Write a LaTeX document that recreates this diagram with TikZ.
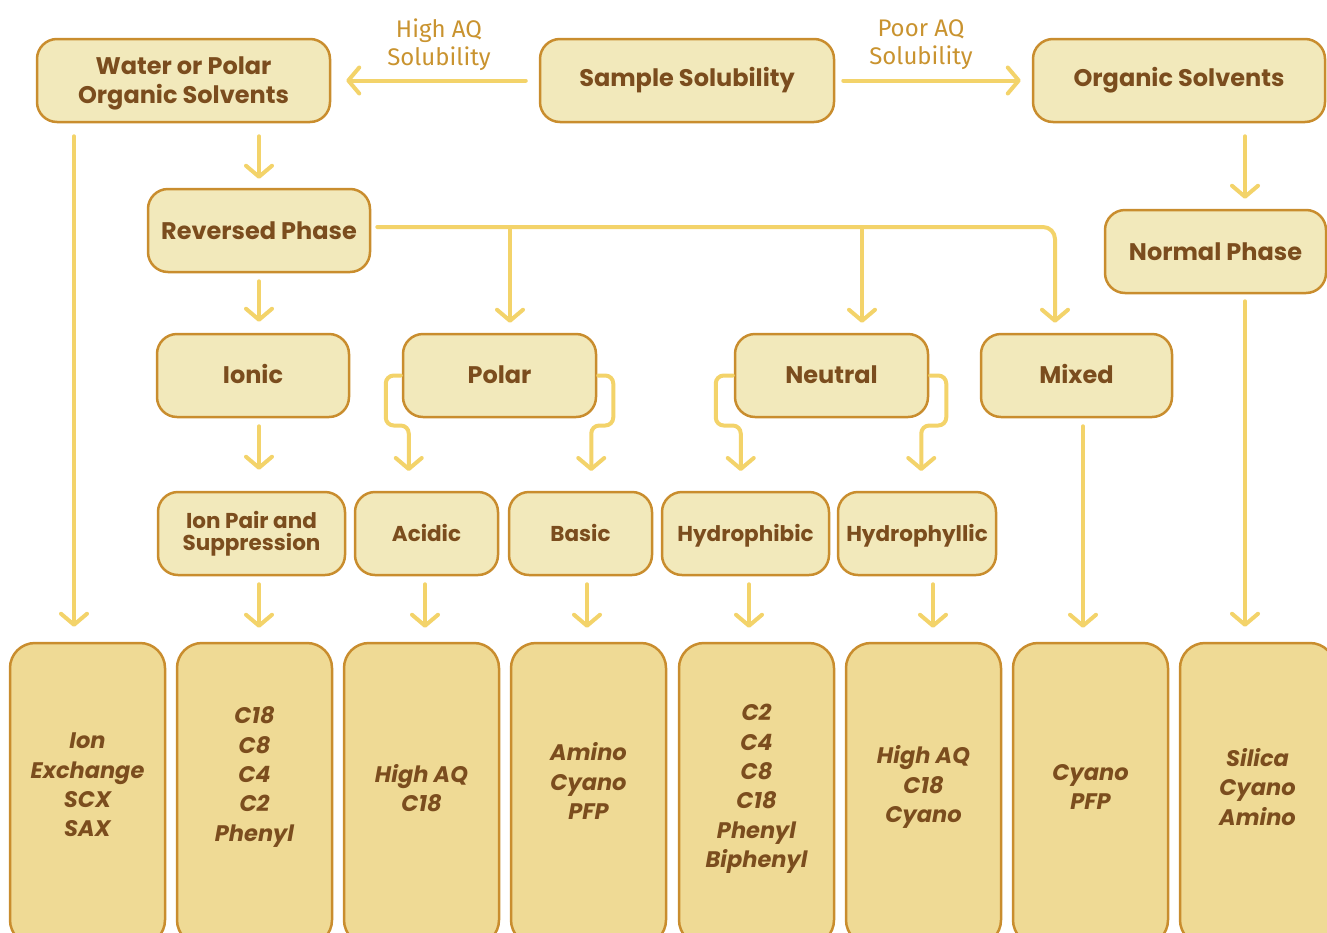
\documentclass[tikz,border=0pt]{standalone}
\usepackage{fontspec}
\setmainfont{Poppins}
\newfontfamily\notefont{Fira Sans}
\usetikzlibrary{arrows.meta}
\definecolor{boxfill}{HTML}{F2E9BB}
\definecolor{leaffill}{HTML}{EFDA95}
\definecolor{boxline}{HTML}{C98D2E}
\definecolor{ink}{HTML}{7B4D1E}
\definecolor{flow}{HTML}{F3D36A}
\definecolor{notecol}{HTML}{C9932F}

\begin{document}
\begin{tikzpicture}[x=1pt,y=-1pt,
  mainbox/.style={draw=boxline, line width=2.5pt, fill=boxfill, rounded corners=20pt,
    align=center, text=ink, inner sep=0pt, minimum height=83pt,
    font=\bfseries\fontsize{24}{29}\selectfont},
  subbox/.style={mainbox, font=\bfseries\fontsize{21.5}{22}\selectfont},
  oneline/.style={text height=15.5pt, text depth=0pt},
  leafbox/.style={draw=boxline, line width=2.5pt, fill=leaffill, rounded corners=25pt,
    minimum width=155pt, minimum height=302pt, inner sep=0pt},
  leaftxt/.style={align=center, text=ink, inner sep=0pt,
    font=\bfseries\itshape\fontsize{22.5}{29.3}\selectfont},
  flowline/.style={draw=flow, line width=4pt, line cap=round, line join=round},
  flowarrow/.style={flowline, -{Straight Barb[length=11pt,width=26pt,round]}},
  sidenote/.style={text=notecol, align=center, inner sep=0pt,
    font=\notefont\fontsize{24}{28}\selectfont}
]
\useasboundingbox (0,0) rectangle (1327,932);

% ---- top row
\node[mainbox, minimum width=293pt] (water)   at (183.5,80.5)
  {\raisebox{-3pt}[\height][\depth]{\begin{tabular}{@{}c@{}}Water or Polar\\Organic Solvents\end{tabular}}};
\node[mainbox, minimum width=294pt] (sample)  at (687,80.5)   {Sample Solubility};
\node[mainbox, minimum width=292pt] (organic) at (1179,80.5)  {Organic Solvents};

\node[sidenote] (hiaq) at (439,45) {High AQ\\Solubility};
\node[sidenote] (poaq) at (921,45) {Poor AQ\\Solubility};

% ---- phases
\node[mainbox, minimum width=222pt] (reversed) at (259,230.5)    {Reversed Phase};
\node[mainbox, minimum width=221pt] (normal)   at (1215.5,251.5) {Normal Phase};

% ---- analyte classes
\node[mainbox, oneline, minimum width=192pt] (ionic)   at (253,375.5)    {Ionic};
\node[mainbox, oneline, minimum width=193pt] (polar)   at (499.5,375.5)  {Polar};
\node[mainbox, oneline, minimum width=193pt] (neutral) at (831.5,375.5)  {Neutral};
\node[mainbox, oneline, minimum width=191pt] (mixed)   at (1076.5,375.5) {Mixed};

% ---- sub classes
\node[subbox, minimum width=187pt] (ionpair) at (251.5,533.5) {Ion Pair and\\Suppression};
\node[subbox, oneline, minimum width=143pt] (acidic)  at (426.5,533.5) {Acidic};
\node[subbox, oneline, minimum width=143pt] (basic)   at (580.5,533.5) {Basic};
\node[subbox, oneline, minimum width=167pt] (phobic)  at (745.5,533.5) {Hydrophibic};
\node[subbox, oneline, minimum width=158pt] (phylic)  at (917,533.5)   {Hydrophyllic};

% ---- column chemistries
\node[leafbox] (l1) at (87.5,794)   {};
\node[leafbox] (l2) at (254.5,794)  {};
\node[leafbox] (l3) at (421.5,794)  {};
\node[leafbox] (l4) at (588.5,794)  {};
\node[leafbox] (l5) at (756.5,794)  {};
\node[leafbox] (l6) at (923.5,794)  {};
\node[leafbox] (l7) at (1090.5,794) {};
\node[leafbox] (l8) at (1257.5,794) {};

\node[leaftxt] (t1) at (87.5,785)   {Ion\\Exchange\\SCX\\SAX};
\node[leaftxt] (t2) at (254.5,777)  {C18\\C8\\C4\\C2\\Phenyl};
\node[leaftxt] (t3) at (421.5,788)  {High AQ\\C18};
\node[leaftxt] (t4) at (588.5,781)  {Amino\\Cyano\\PFP};
\node[leaftxt] (t5) at (756.5,789)  {C2\\C4\\C8\\C18\\Phenyl\\Biphenyl};
\node[leaftxt] (t6) at (923.5,787)  {High AQ\\C18\\Cyano};
\node[leaftxt] (t7) at (1090.5,787) {Cyano\\PFP};
\node[leaftxt] (t8) at (1257.5,787) {Silica\\Cyano\\Amino};

% ---- solubility split
\draw[flowarrow, shorten <=13pt, shorten >=15pt] (sample) -- (water);
\draw[flowarrow, shorten <=8pt, shorten >=11pt] (sample) -- (organic);

% ---- solvent to phase
\coordinate (wx) at ([xshift=-109.5pt]water.south);
\draw[flowarrow, shorten <=13pt, shorten >=15pt] (wx) -- (wx |- l1.north);
\draw[flowarrow, shorten <=13pt, shorten >=9pt] ([xshift=75.5pt]water.south) -- (reversed.north);
\coordinate (ox) at ([xshift=66pt]organic.south);
\draw[flowarrow, shorten <=13pt, shorten >=10pt] (ox) -- (ox |- normal.north);
\coordinate (nx) at ([xshift=29.5pt]normal.south);
\draw[flowarrow, shorten <=7pt, shorten >=15pt] (nx) -- (nx |- l8.north);

% ---- reversed phase branches
\draw[flowarrow, shorten <=8pt, shorten >=11pt] (reversed.south) -- (reversed.south |- ionic.north);
\coordinate (r0) at ([xshift=6pt,yshift=3.5pt]reversed.east);
\coordinate (mx) at ([xshift=-21.5pt]mixed.north);
\coordinate (px) at ([xshift=10.5pt]polar.north);
\coordinate (ux) at ([xshift=30.5pt]neutral.north);
\draw[flowarrow, rounded corners=12pt, shorten >=10pt] (r0) -| (mx);
\draw[flowarrow, shorten >=10pt] (px |- r0) -- (px);
\draw[flowarrow, shorten >=10pt] (ux |- r0) -- (ux);

% ---- class to sub class
\coordinate (ix) at ([xshift=6pt]ionic.south);
\draw[flowarrow, shorten <=8pt, shorten >=21pt] (ix) -- (ix |- ionpair.north);
\draw[flowarrow, rounded corners=8pt, shorten <=1pt, shorten >=21pt]
  (polar.west) -- ++(-16,0) -- ++(0,50) -- ++(23,0) -- ++(0,66.5);
\draw[flowarrow, rounded corners=8pt, shorten <=1pt, shorten >=21pt]
  (polar.east) -- ++(16,0) -- ++(0,50) -- ++(-22,0) -- ++(0,66.5);
\draw[flowarrow, rounded corners=8pt, shorten <=1pt, shorten >=21pt]
  (neutral.west) -- ++(-18,0) -- ++(0,50) -- ++(25,0) -- ++(0,66.5);
\draw[flowarrow, rounded corners=8pt, shorten <=1pt, shorten >=21pt]
  (neutral.east) -- ++(17,0) -- ++(0,50) -- ++(-25,0) -- ++(0,66.5);
\coordinate (mmx) at ([xshift=6.5pt]mixed.south);
\draw[flowarrow, shorten <=8pt, shorten >=14pt] (mmx) -- (mmx |- l7.north);

% ---- sub class to columns
\coordinate (a1) at ([xshift=7.5pt]ionpair.south);
\coordinate (a2) at ([xshift=-1.5pt]acidic.south);
\coordinate (a3) at ([xshift=6.5pt]basic.south);
\coordinate (a4) at ([xshift=3.5pt]phobic.south);
\coordinate (a5) at ([xshift=16pt]phylic.south);
\foreach \c/\l in {a1/l2, a2/l3, a3/l4, a4/l5, a5/l6}
  \draw[flowarrow, shorten <=8pt, shorten >=14pt] (\c) -- (\c |- \l.north);
\end{tikzpicture}
\end{document}
